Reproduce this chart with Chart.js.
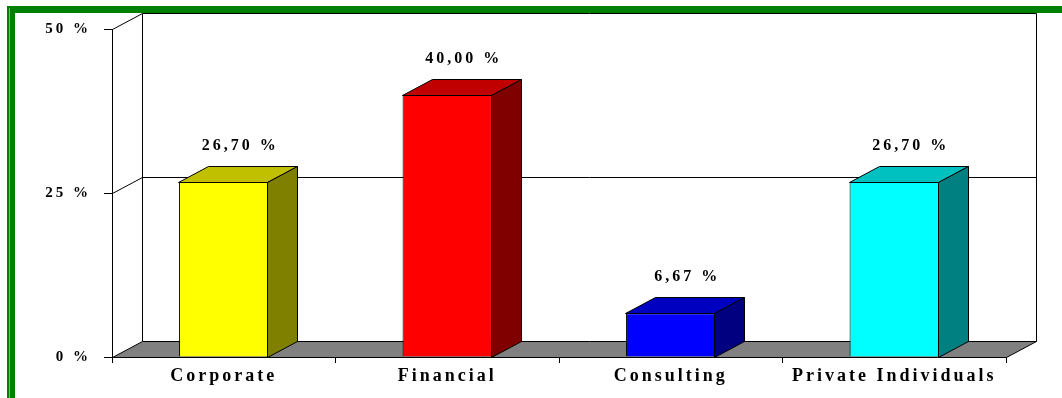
<!DOCTYPE html>
<html>
<head>
<meta charset="utf-8">
<script src="https://cdn.jsdelivr.net/npm/chart.js@4"></script>
<style>
  html, body { margin: 0; padding: 0; background: #fff; }
  canvas { display: block; }
</style>
</head>
<body>
<canvas id="chart" width="1062" height="398"></canvas>
<script>
// Client breakdown by sector, in percent
const categories = ['Corporate', 'Financial', 'Consulting', 'Private Individuals'];
const shares = [26.70, 40.00, 6.67, 26.70];
const yTicks = [0, 25, 50];

// Face colours of each 3-D column: front, top, side
const frontColors = ['#FFFF00', '#FF0000', '#0000FF', '#00FFFF'];
const topColors = ['#C0C000', '#C00000', '#0000C0', '#00C0C0'];
const sideColors = ['#808000', '#800000', '#000080', '#008080'];

// Oblique projection of the depth axis
const DEPTH_X = 30;
const DEPTH_Y = 16;
const SERIF = '"Liberation Serif", "Times New Roman", serif';
const SPACING = 3;
const LABEL_GAP = 21;

const crisp = v => Math.round(v) + 0.5;

function line(ctx, x1, y1, x2, y2) {
  ctx.beginPath();
  ctx.moveTo(x1, y1);
  ctx.lineTo(x2, y2);
  ctx.stroke();
}

function poly(ctx, pts, fill) {
  ctx.beginPath();
  ctx.moveTo(pts[0][0], pts[0][1]);
  for (let i = 1; i < pts.length; i++) ctx.lineTo(pts[i][0], pts[i][1]);
  ctx.closePath();
  ctx.fillStyle = fill;
  ctx.fill();
  ctx.stroke();
}

const box3d = {
  id: 'box3d',
  beforeDraw(chart) {
    chart.ctx.letterSpacing = SPACING + 'px';
  },
  // back wall, side-wall diagonals and floor
  beforeDatasetsDraw(chart) {
    const { ctx, chartArea: a, scales: { y } } = chart;
    ctx.save();
    ctx.strokeStyle = '#000';
    ctx.lineWidth = 1;
    const left = crisp(a.left), right = crisp(a.right);
    const bl = left + DEPTH_X, br = right + DEPTH_X;
    const floorY = crisp(y.getPixelForValue(0));
    const topY = crisp(y.getPixelForValue(yTicks[yTicks.length - 1]));

    poly(ctx, [[left, floorY], [right, floorY], [br, floorY - DEPTH_Y], [bl, floorY - DEPTH_Y]], '#808080');

    line(ctx, bl, topY - DEPTH_Y, bl, floorY - DEPTH_Y);
    line(ctx, br, topY - DEPTH_Y, br, floorY - DEPTH_Y);
    yTicks.forEach(v => {
      if (v === 0) return;
      const py = crisp(y.getPixelForValue(v));
      line(ctx, left, py, bl, py - DEPTH_Y);
      line(ctx, bl, py - DEPTH_Y, br, py - DEPTH_Y);
    });
    ctx.restore();
  },
  // top and side faces of every column, then the value labels
  afterDatasetsDraw(chart) {
    const { ctx } = chart;
    const meta = chart.getDatasetMeta(0);
    ctx.save();
    ctx.strokeStyle = '#000';
    ctx.lineWidth = 1;
    meta.data.forEach((bar, i) => {
      const { x, y, width, base } = bar.getProps(['x', 'y', 'width', 'base'], true);
      const l = crisp(x - width / 2) - 1, r = crisp(x + width / 2) - 1;
      const t = crisp(y), b = crisp(base);
      poly(ctx, [[l, t], [r, t], [r + DEPTH_X, t - DEPTH_Y], [l + DEPTH_X, t - DEPTH_Y]], topColors[i]);
      poly(ctx, [[r, t], [r + DEPTH_X, t - DEPTH_Y], [r + DEPTH_X, b - DEPTH_Y], [r, b]], sideColors[i]);

      const text = shares[i].toFixed(2).replace('.', ',') + ' %';
      ctx.font = 'bold 16px ' + SERIF;
      ctx.letterSpacing = SPACING + 'px';
      ctx.fillStyle = '#000';
      ctx.textAlign = 'center';
      ctx.textBaseline = 'middle';
      ctx.fillText(text, x + DEPTH_X / 2 + SPACING / 2, t - DEPTH_Y - LABEL_GAP);
    });
    ctx.restore();
  },
  // green frame round the chart
  afterDraw(chart) {
    const { ctx, width, height } = chart;
    ctx.save();
    ctx.fillStyle = '#008000';
    ctx.fillRect(7, 6, width - 7, 7);
    ctx.fillRect(7, 6, 8, height - 6);
    ctx.strokeStyle = '#6cbf6c';
    ctx.lineWidth = 1;
    line(ctx, 9.5, 8, 9.5, height);
    ctx.restore();
  }
};

new Chart(document.getElementById('chart'), {
  type: 'bar',
  data: {
    labels: categories,
    datasets: [{
      data: shares,
      backgroundColor: frontColors,
      borderColor: '#000',
      borderWidth: 1,
      categoryPercentage: 1,
      barPercentage: 0.4
    }]
  },
  options: {
    responsive: false,
    animation: false,
    devicePixelRatio: 1,
    layout: { padding: { top: 29, right: 56, left: 0, bottom: 0 } },
    plugins: { legend: { display: false }, tooltip: { enabled: false } },
    scales: {
      x: {
        grid: { drawOnChartArea: false, offset: true, tickLength: 6, color: '#000' },
        border: { color: '#000' },
        ticks: { color: '#000', padding: 3, font: { family: SERIF, size: 18, weight: 'bold' } },
        afterFit(s) { s.height = 41; }
      },
      y: {
        min: 0,
        max: 50,
        afterBuildTicks(s) { s.ticks = yTicks.map(v => ({ value: v })); },
        grid: { drawOnChartArea: false, tickLength: 8, color: '#000' },
        border: { color: '#000' },
        ticks: { color: '#000', padding: 13, font: { family: SERIF, size: 15, weight: 'bold' }, callback: v => v + ' %' },
        afterFit(s) { s.width = 112; }
      }
    }
  },
  plugins: [box3d]
});
</script>
</body>
</html>
